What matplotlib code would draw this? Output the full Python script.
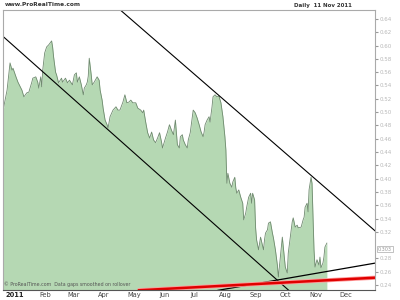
import matplotlib
matplotlib.use("Agg")
import matplotlib.pyplot as plt

# daily close, x = days since 1 Jan 2011
days = [-12, -10, -8, -5, -3, -2, 1, 3, 7, 9, 12, 14, 17, 18, 21, 23, 24, 26, 27, 28,
        30, 32, 34, 37, 38, 39, 41, 42, 44, 47, 48, 51, 53, 55, 58, 60, 62, 63, 65, 67,
        69, 70, 72, 73, 74, 75, 77, 78, 80, 83, 85, 86, 88, 89, 91, 93, 94, 96, 99, 102,
        104, 106, 109, 111, 113, 115, 117, 119, 122, 124, 127, 129, 130, 132, 134, 136, 138, 140, 142, 144,
        146, 148, 149, 152, 154, 156, 158, 160, 162, 163, 164, 166, 167, 169, 170, 172, 174, 175, 177, 179,
        180, 182, 184, 186, 188, 190, 191, 192, 194, 196, 197, 199, 200, 202, 204, 206, 208, 210, 212, 213,
        214, 215, 217, 219, 220, 222, 223, 224, 226, 228, 230, 231, 233, 234, 236, 238, 239, 240, 242, 243,
        244, 246, 247, 248, 251, 252, 253, 255, 256, 258, 260, 261, 263, 265, 266, 268, 270, 271, 273, 275,
        276, 278, 280, 281, 283, 285, 286, 289, 291, 292, 293, 295, 296, 297, 299, 300, 301, 302, 303, 305,
        307, 308, 309, 311, 312, 313, 315]
price = [0.503, 0.518, 0.533, 0.574, 0.563, 0.566, 0.553, 0.545, 0.533, 0.523, 0.529, 0.530, 0.545, 0.551, 0.553, 0.545, 0.536, 0.553, 0.538, 0.563,
         0.589, 0.598, 0.601, 0.607, 0.598, 0.583, 0.560, 0.556, 0.544, 0.551, 0.545, 0.551, 0.544, 0.548, 0.541, 0.556, 0.559, 0.545, 0.553, 0.541,
         0.526, 0.536, 0.541, 0.545, 0.554, 0.581, 0.556, 0.541, 0.545, 0.553, 0.548, 0.533, 0.518, 0.506, 0.488, 0.481, 0.476, 0.493, 0.503, 0.508,
         0.503, 0.503, 0.515, 0.526, 0.514, 0.515, 0.518, 0.514, 0.514, 0.506, 0.503, 0.499, 0.503, 0.485, 0.469, 0.461, 0.470, 0.458, 0.454, 0.461,
         0.469, 0.455, 0.446, 0.461, 0.470, 0.481, 0.473, 0.466, 0.488, 0.470, 0.451, 0.446, 0.463, 0.466, 0.458, 0.451, 0.446, 0.458, 0.469, 0.491,
         0.503, 0.499, 0.491, 0.481, 0.470, 0.463, 0.470, 0.481, 0.488, 0.493, 0.485, 0.508, 0.523, 0.526, 0.523, 0.524, 0.514, 0.493, 0.463, 0.443,
         0.393, 0.408, 0.393, 0.387, 0.395, 0.402, 0.386, 0.378, 0.383, 0.372, 0.363, 0.338, 0.348, 0.357, 0.372, 0.378, 0.363, 0.378, 0.368, 0.326,
         0.308, 0.293, 0.303, 0.312, 0.293, 0.308, 0.318, 0.323, 0.333, 0.335, 0.318, 0.311, 0.293, 0.270, 0.252, 0.282, 0.312, 0.297, 0.267, 0.258,
         0.288, 0.312, 0.335, 0.341, 0.327, 0.330, 0.326, 0.327, 0.338, 0.342, 0.357, 0.363, 0.350, 0.383, 0.402, 0.393, 0.342, 0.293, 0.267, 0.278,
         0.270, 0.282, 0.266, 0.273, 0.282, 0.297, 0.303]

months = ["2011", "Feb", "Mar", "Apr", "May", "Jun", "Jul", "Aug", "Sep", "Oct", "Nov", "Dec"]
month_days = [0, 31, 59, 90, 120, 151, 181, 212, 243, 273, 304, 334]

price_ticks = [0.64, 0.62, 0.60, 0.58, 0.56, 0.54, 0.52, 0.50, 0.48, 0.46, 0.44, 0.42,
               0.40, 0.38, 0.36, 0.34, 0.32, 0.28, 0.26, 0.24]

# trend lines (start day, start price, end day, end price)
down_low = [-13, 0.615, 278, 0.230]
down_high = [106, 0.654, 364, 0.321]
support = [205, 0.232, 364, 0.273]
red_line = [124, 0.232, 364, 0.251]

fig = plt.figure(figsize=(4, 3), dpi=100)
ax = fig.add_axes([3 / 400, 10 / 300, 372 / 400, 280 / 300])

ymin, ymax = 0.2325, 0.6535
ax.set_xlim(-12.1, 363.6)
ax.set_ylim(ymin, ymax)

ax.fill_between(days, price, ymin, color="#b5d8b3", lw=0)
ax.plot(days, price, color="#6f8a6f", lw=0.6)

ax.plot(down_low[0::2], down_low[1::2], color="black", lw=0.8)
ax.plot(down_high[0::2], down_high[1::2], color="black", lw=0.8)
ax.plot(support[0::2], support[1::2], color="black", lw=0.9)
ax.plot(red_line[0::2], red_line[1::2], color="#ff9a9a", lw=3.0, solid_capstyle="butt")
ax.plot(red_line[0::2], red_line[1::2], color="#e00000", lw=1.8, solid_capstyle="butt")

ax.set_xticks(month_days)
ax.set_xticklabels(months, fontsize=4.8, color="#444444")
ax.get_xticklabels()[0].set_fontweight("bold")
ax.get_xticklabels()[0].set_color("#222222")
ax.tick_params(axis="x", length=0, pad=1.5)

ax.yaxis.tick_right()
ax.set_yticks(price_ticks)
ax.set_yticklabels([f"{v:.2f}" for v in price_ticks], fontsize=4, color="#b8b8b8")
ax.tick_params(axis="y", length=2, color="#999999", pad=1)

for side in ["left", "right", "top"]:
    ax.spines[side].set_color("#aaaaaa")
    ax.spines[side].set_linewidth(0.8)
ax.spines["bottom"].set_color("#555555")
ax.spines["bottom"].set_linewidth(0.8)

# last price box
ax.text(1.008, 0.294, f"{price[-1]:.3f}", transform=ax.get_yaxis_transform(),
        fontsize=3.5, color="#999999", va="center", ha="left",
        bbox=dict(boxstyle="square,pad=0.15", fc="white", ec="#aaaaaa", lw=0.5),
        clip_on=False)

ax.text(0.003, 0.012, "© ProRealTime.com  Data gaps smoothed on rollover",
        transform=ax.transAxes, fontsize=3.4, color="#555555", va="bottom", ha="left")

fig.text(5 / 400, 1 - 5 / 300, "www.ProRealTime.com", fontsize=4.2, fontweight="bold",
         color="#333333", va="center", ha="left")
fig.text(352 / 400, 1 - 5 / 300, "Daily  11 Nov 2011", fontsize=4.0, fontweight="bold",
         color="#333333", va="center", ha="right")

fig.savefig("out.png", dpi=100)
